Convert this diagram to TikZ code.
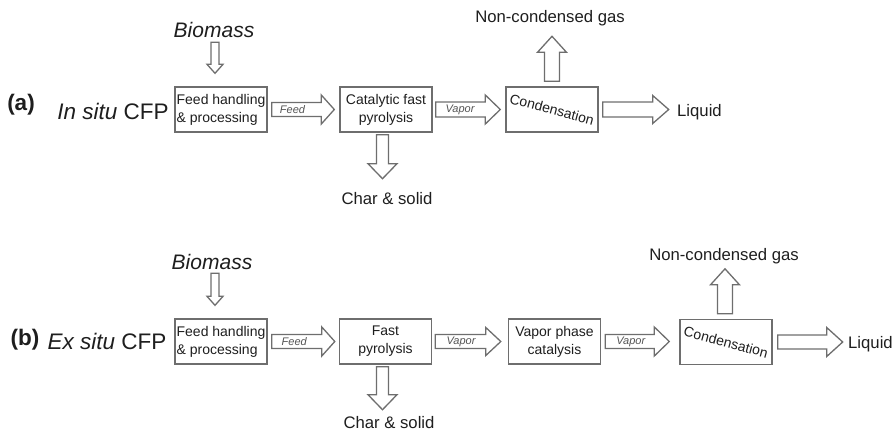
\documentclass[tikz,border=0pt]{standalone}
\usepackage{fontspec}
\setmainfont{Liberation Sans}
\usetikzlibrary{calc}
\definecolor{ln}{HTML}{6E6E6E}
\definecolor{tx}{HTML}{1E1E1E}
\definecolor{lb}{HTML}{555555}
\tikzset{
  box/.style={draw=ln, line width=1.4pt, minimum width=92pt, minimum height=45pt, inner sep=0pt, text=tx,
    font=\fontsize{14}{18}\selectfont, align=center},
  blk/.style={draw=ln, line width=1.3pt, fill=white, line join=miter},
  lbl/.style={font=\fontsize{11}{13}\selectfont\itshape, text=lb, inner sep=0pt},
  big/.style={font=\fontsize{22.5}{26}\selectfont, text=tx, inner sep=0pt},
  prod/.style={font=\fontsize{16.7}{19}\selectfont, text=tx, inner sep=0pt},
  bio/.style={font=\fontsize{21}{24}\selectfont\itshape, text=tx, inner sep=0pt},
}
% horizontal block arrow: start, end, shaft half, head half, head length
\newcommand\harr[5]{\draw[blk] let \p1=#1, \p2=#2 in
  (\x1,\y1+#3) -- (\x2-#5,\y1+#3) -- (\x2-#5,\y1+#4) -- (\x2,\y1) -- (\x2-#5,\y1-#4) -- (\x2-#5,\y1-#3) -- (\x1,\y1-#3) -- cycle;}
% vertical block arrow pointing down
\newcommand\darr[5]{\draw[blk] let \p1=#1, \p2=#2 in
  (\x1-#3,\y1) -- (\x1-#3,\y2+#5) -- (\x1-#4,\y2+#5) -- (\x1,\y2) -- (\x1+#4,\y2+#5) -- (\x1+#3,\y2+#5) -- (\x1+#3,\y1) -- cycle;}
% vertical block arrow pointing up
\newcommand\uarr[5]{\draw[blk] let \p1=#1, \p2=#2 in
  (\x1-#3,\y1) -- (\x1-#3,\y2-#5) -- (\x1-#4,\y2-#5) -- (\x1,\y2) -- (\x1+#4,\y2-#5) -- (\x1+#3,\y2-#5) -- (\x1+#3,\y1) -- cycle;}
\newcommand\condtext{\rotatebox{-15}{\fontsize{14}{16}\selectfont Condensation}}
\begin{document}
\begin{tikzpicture}[x=1pt,y=-1pt]
\useasboundingbox (0,0) rectangle (895,432);
% ---------- row (a) ----------
\node[big,font=\fontsize{22.5}{26}\selectfont\bfseries] (alab) at (21,105) {(a)};
\node[big] (aname) at (113,111) {\textit{In situ} CFP};
\node[bio] (abio) at (214,30) {Biomass};
\node[box,align=left] (a1) at (221,109.5) {Feed handling\\\& processing};
\node[box] (a2) at (386,109.5) {Catalytic fast\\pyrolysis};
\node[box] (a3) at (552,109.5) {\condtext};
\node[prod] (achar) at (387,199) {Char \& solid};
\node[prod] (agas) at (550,18) {Non-condensed gas};
\node[prod,anchor=west] (aliq) at (677,112) {Liquid};

\darr{($(a1.north)+(-6,-44)$)}{($(a1.north)+(-6,-13)$)}{4pt}{8pt}{9pt}
\harr{($(a1.east)+(4,0)$)}{($(a2.west)+(-5,0)$)}{7pt}{14.5pt}{13pt}
\node[lbl] (afeed) at ($(a1.east)!0.5!(a2.west)+(-11,0)$) {Feed};
\harr{($(a2.east)+(3,0)$)}{($(a3.west)+(-5,0)$)}{7.5pt}{14.5pt}{15pt}
\node[lbl] (avap) at ($(a2.east)!0.5!(a3.west)+(-9,0)$) {Vapor};
\darr{($(a2.south)+(-3.5,2)$)}{($(a2.south)+(-3.5,46)$)}{6pt}{14.5pt}{15pt}
\uarr{($(a3.north)+(0,-5)$)}{($(a3.north)+(0,-50)$)}{7.5pt}{14.5pt}{16pt}
\harr{($(a3.east)+(4,0)$)}{($(a3.east)+(70,0)$)}{7.5pt}{14pt}{16pt}

% ---------- row (b) ----------
\node[big,font=\fontsize{22.5}{26}\selectfont\bfseries] (blab) at (25,340) {(b)};
\node[big] (bname) at (107,341) {\textit{Ex situ} CFP};
\node[bio] (bbio) at (212,262) {Biomass};
\node[box,align=left] (b1) at (221,341.5) {Feed handling\\\& processing};
\node[box] (b2) at (385.5,341.5) {Fast\\pyrolysis};
\node[box] (b3) at (554.5,341.5) {Vapor phase\\catalysis};
\node[box] (b4) at (726,342) {\condtext};
\node[prod] (bchar) at (389,422.5) {Char \& solid};
\node[prod] (bgas) at (724,256) {Non-condensed gas};
\node[prod,anchor=west] (bliq) at (848,344) {Liquid};

\darr{($(b1.north)+(-6,-45)$)}{($(b1.north)+(-6,-13)$)}{4pt}{8pt}{9pt}
\harr{($(b1.east)+(4,0)$)}{($(b2.west)+(-4,0)$)}{7pt}{14.5pt}{13pt}
\node[lbl] (bfeed) at ($(b1.east)!0.5!(b2.west)+(-9,0)$) {Feed};
\harr{($(b2.east)+(3,0)$)}{($(b3.west)+(-7,0)$)}{7pt}{14pt}{15pt}
\node[lbl] (bvap1) at ($(b2.east)!0.5!(b3.west)+(-9,0)$) {Vapor};
\harr{($(b3.east)+(4,0)$)}{($(b4.west)+(-10,0)$)}{7pt}{14.5pt}{15pt}
\node[lbl] (bvap2) at ($(b3.east)!0.5!(b4.west)+(-9.5,0)$) {Vapor};
\darr{($(b2.south)+(-3,2)$)}{($(b2.south)+(-3,45)$)}{6pt}{14.5pt}{15pt}
\uarr{($(b4.north)+(-1,-5)$)}{($(b4.north)+(-1,-50)$)}{7.5pt}{14.5pt}{16pt}
\harr{($(b4.east)+(5,0)$)}{($(b4.east)+(70,0)$)}{7pt}{14.5pt}{16pt}
\end{tikzpicture}
\end{document}
